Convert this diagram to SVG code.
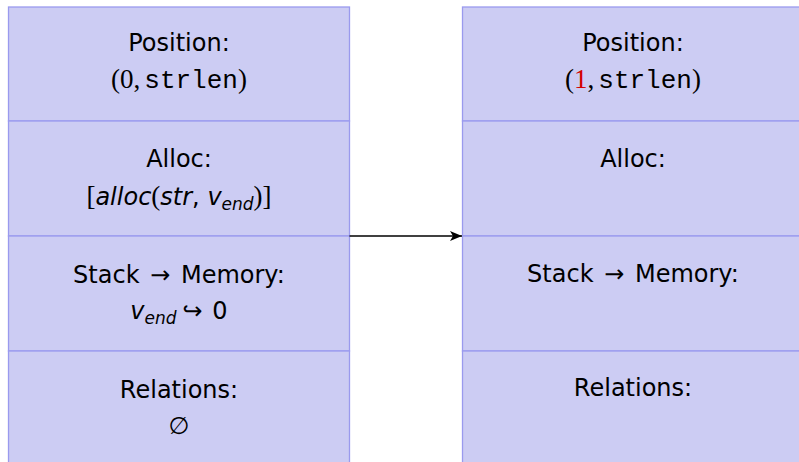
<svg xmlns="http://www.w3.org/2000/svg" width="799" height="462" viewBox="0 0 799 462">
<style>
.cell{fill:#ccccf3;stroke:#9a9aee;stroke-width:1.3}
.t{font-family:"DejaVu Sans",sans-serif;font-size:24px;fill:#000;text-anchor:middle}
.rm{font-family:"Liberation Serif",serif;font-size:27px}
.tt{font-family:"Liberation Mono",monospace;font-size:26px}
.it{font-style:italic}
.sub{font-size:17px}
.red{fill:#d40000}
.conn{stroke:#000;stroke-width:1.5;fill:none}
</style>
<defs>
<marker id="arr" markerUnits="userSpaceOnUse" markerWidth="14" markerHeight="12" refX="12" refY="6" orient="auto">
<path d="M0,1 L12,6 L0,11 L3,6 Z" fill="#000"/>
</marker>
</defs>
<g id="left-position">
<rect class="cell" x="8.5" y="7" width="341" height="114"/>
<text class="t" x="179" y="51">Position:</text>
<text class="t" x="179" y="88"><tspan class="rm">(0,</tspan><tspan class="tt" dx="4">strlen</tspan><tspan class="rm">)</tspan></text>
</g>
<g id="left-alloc">
<rect class="cell" x="8.5" y="121" width="341" height="115"/>
<text class="t" x="179" y="167">Alloc:</text>
<text class="t" x="179" y="205"><tspan class="rm">[</tspan><tspan class="it">alloc</tspan><tspan class="rm">(</tspan><tspan class="it">str</tspan>, <tspan class="it">v</tspan><tspan class="it sub" dy="5">end</tspan><tspan class="rm" dy="-5">)]</tspan></text>
</g>
<g id="left-stack">
<rect class="cell" x="8.5" y="236" width="341" height="115"/>
<text class="t" x="179" y="283">Stack <tspan dx="3">→</tspan> <tspan dx="3">Memory:</tspan></text>
<text class="t" x="179" y="319"><tspan class="it">v</tspan><tspan class="it sub" dy="5">end</tspan><tspan dy="-5" dx="6">↪</tspan> <tspan dx="2">0</tspan></text>
</g>
<g id="left-relations">
<rect class="cell" x="8.5" y="351" width="341" height="120"/>
<text class="t" x="179" y="398">Relations:</text>
<text class="t" x="179" y="434">∅</text>
</g>
<g id="right-position">
<rect class="cell" x="462.5" y="7" width="341" height="114"/>
<text class="t" x="633" y="51">Position:</text>
<text class="t" x="633" y="88"><tspan class="rm">(</tspan><tspan class="rm red">1</tspan><tspan class="rm">,</tspan><tspan class="tt" dx="4">strlen</tspan><tspan class="rm">)</tspan></text>
</g>
<g id="right-alloc">
<rect class="cell" x="462.5" y="121" width="341" height="115"/>
<text class="t" x="633" y="167">Alloc:</text>
</g>
<g id="right-stack">
<rect class="cell" x="462.5" y="236" width="341" height="115"/>
<text class="t" x="633" y="282">Stack <tspan dx="3">→</tspan> <tspan dx="3">Memory:</tspan></text>
</g>
<g id="right-relations">
<rect class="cell" x="462.5" y="351" width="341" height="120"/>
<text class="t" x="633" y="396">Relations:</text>
</g>
<g id="connectors">
<line class="conn" x1="349.5" y1="236" x2="462" y2="236" marker-end="url(#arr)"/>
</g>
</svg>
